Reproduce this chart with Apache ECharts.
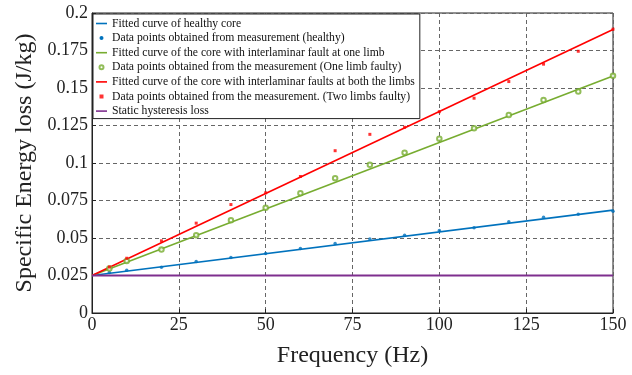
<!DOCTYPE html>
<html>
<head>
<meta charset="utf-8">
<script src="https://cdn.jsdelivr.net/npm/echarts@6/dist/echarts.min.js"></script>
<style>
  html, body { margin: 0; padding: 0; background: #fff; }
  #chart { width: 632px; height: 375px; }
</style>
</head>
<body>
<div id="chart"></div>
<script>
// measured frequencies (Hz)
const freq = [5, 10, 20, 30, 40, 50, 60, 70, 80, 90, 100, 110, 120, 130, 140, 150];
// measured energy loss (J/kg)
const healthy = [0.0270, 0.0285, 0.0305, 0.0343, 0.0370, 0.0396, 0.0430, 0.0463, 0.0494, 0.0519, 0.0550, 0.0568, 0.0608, 0.0639, 0.0659, 0.0679];
const oneLimb = [0.0296, 0.0347, 0.0423, 0.0519, 0.0619, 0.0701, 0.0799, 0.0899, 0.0988, 0.1069, 0.1162, 0.1231, 0.1320, 0.1420, 0.1476, 0.1581];
const twoLimb = [0.0307, 0.0365, 0.0481, 0.0599, 0.0723, 0.0801, 0.0910, 0.1082, 0.1191, 0.1238, 0.1342, 0.1432, 0.1543, 0.1659, 0.1745, 0.1892];
// fitted straight lines, end points
const fitX = [0, 150];
const healthyFit = [0.025, 0.0686];
const oneLimbFit = [0.025, 0.158];
const twoLimbFit = [0.025, 0.189];
const staticLoss = [0.025, 0.025];

const names = [
    'Fitted curve of healthy core',
    'Data points obtained from measurement (healthy)',
    'Fitted curve of the core with interlaminar fault at one limb',
    'Data points obtained from the measurement (One limb faulty)',
    'Fitted curve of the core with interlaminar faults at both the limbs',
    'Data points obtained from the measurement. (Two limbs faulty)',
    'Static hysteresis loss'
];

const pairs = (xs, ys) => xs.map((x, i) => [x, ys[i]]);
const font = 'Liberation Serif';
const lineIcon = 'path://M0,0h11v1.6h-11z';
const dotIcon = 'path://M0,0h1v1h-1z';

const lineSeries = (name, xs, ys, color, width) => ({
    name: name,
    type: 'line',
    data: pairs(xs, ys),
    symbol: 'none',
    color: color,
    lineStyle: { color: color, width: width },
    z: 2
});

const dotSeries = (name, ys, color, symbol, size) => ({
    name: name,
    type: 'scatter',
    data: pairs(freq, ys),
    symbol: symbol,
    symbolSize: size,
    color: color,
    itemStyle: symbol === 'emptyCircle'
        ? { color: color, borderColor: color, borderWidth: 1 }
        : { color: color },
    z: 3
});

const chart = echarts.init(document.getElementById('chart'));

chart.setOption({
    animation: false,
    grid: {
        left: 92, right: 19, top: 13, bottom: 62,
        show: true, borderColor: '#222', borderWidth: 1
    },
    legend: {
        orient: 'vertical',
        left: 93, top: 14,
        padding: [3, 5, 1, 3],
        itemGap: 1.6,
        itemWidth: 11,
        itemHeight: 4,
        itemTextGap: 2,
        backgroundColor: '#fff',
        borderColor: '#222',
        borderWidth: 1,
        textStyle: { fontFamily: font, fontSize: 11.7, lineHeight: 13, color: '#111' },
        data: [
            { name: names[0], icon: lineIcon },
            { name: names[1], icon: 'circle', itemStyle: { opacity: 1 } },
            { name: names[2], icon: lineIcon },
            { name: names[3], icon: 'emptyCircle' },
            { name: names[4], icon: lineIcon },
            { name: names[5], icon: dotIcon },
            { name: names[6], icon: lineIcon }
        ]
    },
    xAxis: {
        type: 'value',
        min: 0, max: 150, interval: 25,
        name: 'Frequency (Hz)',
        nameLocation: 'middle',
        nameGap: 31,
        nameTextStyle: { fontFamily: font, fontSize: 24, color: '#222' },
        axisLine: { lineStyle: { color: '#222' } },
        axisTick: { inside: true, length: 4, lineStyle: { color: '#222' } },
        axisLabel: { fontFamily: font, fontSize: 18, color: '#222', margin: 3 },
        splitLine: { show: true, lineStyle: { color: '#666', type: [4, 3] } }
    },
    yAxis: {
        type: 'value',
        min: 0, max: 0.2, interval: 0.025,
        name: 'Specific Energy loss (J/kg)',
        nameLocation: 'middle',
        nameGap: 55,
        nameTextStyle: { fontFamily: font, fontSize: 24, color: '#222' },
        axisLine: { show: true, lineStyle: { color: '#222' } },
        axisTick: { show: true, inside: true, length: 4, lineStyle: { color: '#222' } },
        axisLabel: {
            fontFamily: font, fontSize: 18, color: '#222', margin: 4,
            formatter: v => String(+v.toFixed(3))
        },
        splitLine: { show: true, lineStyle: { color: '#666', type: [4, 3] } }
    },
    series: [
        lineSeries(names[0], fitX, healthyFit, '#0072BD', 1.6),
        dotSeries(names[1], healthy, '#0072BD', 'circle', 3.5),
        lineSeries(names[2], fitX, oneLimbFit, '#77AC30', 1.6),
        dotSeries(names[3], oneLimb, '#77AC30', 'emptyCircle', 4.5),
        lineSeries(names[4], fitX, twoLimbFit, '#FF0000', 1.6),
        dotSeries(names[5], twoLimb, '#FF0000', 'rect', 3),
        lineSeries(names[6], fitX, staticLoss, '#7E2F8E', 2.2)
    ]
});

window.addEventListener('resize', () => {
    chart && chart.resize();
});
</script>
</body>
</html>
